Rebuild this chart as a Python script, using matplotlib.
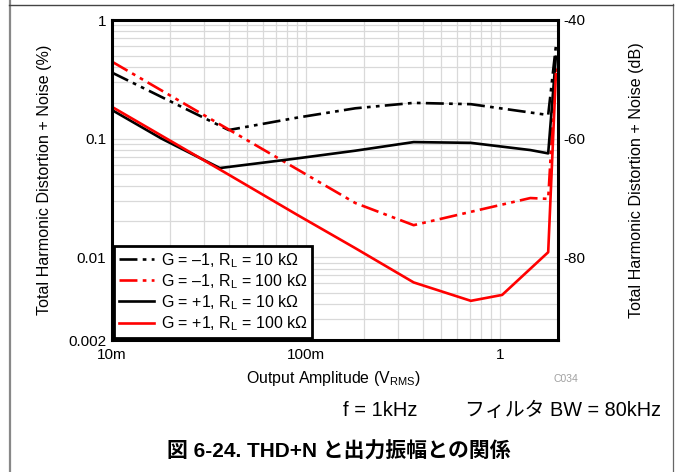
import numpy as np
import matplotlib
matplotlib.use("Agg")
import matplotlib.pyplot as plt
from matplotlib.lines import Line2D
from matplotlib.ticker import NullFormatter, LogLocator

plt.rcParams['font.family'] = ['Liberation Sans', 'Noto Sans CJK JP']
plt.rcParams['mathtext.fontset'] = 'custom'
plt.rcParams['mathtext.rm'] = 'Liberation Sans'
plt.rcParams['mathtext.it'] = 'Liberation Sans:italic'

# G = -1, RL = 10k (black dash-dot)
x_inv_10k = [0.01, 0.04, 0.09, 0.18, 0.36, 0.71, 1.78, 1.95]
y_inv_10k = [0.36, 0.118, 0.15, 0.18, 0.20, 0.195, 0.158, 0.60]

# G = -1, RL = 100k (red dash-dot)
x_inv_100k = [0.01, 0.18, 0.36, 0.71, 1.44, 1.78, 1.95]
y_inv_100k = [0.445, 0.0286, 0.0186, 0.0241, 0.0315, 0.031, 0.40]

# G = +1, RL = 10k (black solid)
x_fol_10k = [0.01, 0.018, 0.036, 0.09, 0.18, 0.36, 0.71, 1.44, 1.78, 1.95]
y_fol_10k = [0.174, 0.10, 0.0564, 0.068, 0.079, 0.0934, 0.092, 0.080, 0.075, 0.49]

# G = +1, RL = 100k (red solid)
x_fol_100k = [0.01, 0.04, 0.09, 0.18, 0.36, 0.71, 1.03, 1.78, 1.95]
y_fol_100k = [0.185, 0.0496, 0.0228, 0.0119, 0.00612, 0.00428, 0.0048, 0.011, 0.35]

labels = [r"G = –1, R$_\mathrm{L}$ = 10 kΩ",
          r"G = –1, R$_\mathrm{L}$ = 100 kΩ",
          r"G = +1, R$_\mathrm{L}$ = 10 kΩ",
          r"G = +1, R$_\mathrm{L}$ = 100 kΩ"]

x_ticks = [0.01, 0.1, 1]
x_ticklabels = ["10m", "100m", "1"]
y_ticks = [0.002, 0.01, 0.1, 1]
y_ticklabels = ["0.002", "0.01", "0.1", "1"]
db_ticks = [-40, -60, -80]
db_ticklabels = ["-40", "-60", "-80"]

W, H = 676, 472
fig = plt.figure(figsize=(W / 100, H / 100), dpi=100)
ax = fig.add_axes([112 / W, 1 - 340 / H, 446 / W, 320 / H])

dashdot = (0, (6.8, 2.0, 1.4, 2.0, 1.4, 2.0))
lw = 1.9
ax.plot(x_inv_10k, y_inv_10k, color="black", lw=lw, linestyle=dashdot, label=labels[0])
ax.plot(x_inv_100k, y_inv_100k, color="#ff0000", lw=lw, linestyle=dashdot, label=labels[1])
ax.plot(x_fol_10k, y_fol_10k, color="black", lw=lw, label=labels[2])
ax.plot(x_fol_100k, y_fol_100k, color="#ff0000", lw=lw, label=labels[3])

ax.set_xscale("log")
ax.set_yscale("log")
ax.set_xlim(0.01, 2)
ax.set_ylim(0.002, 1)
ax.set_xticks(x_ticks)
ax.set_xticklabels(x_ticklabels)
ax.set_yticks(y_ticks)
ax.set_yticklabels(y_ticklabels)
ax.xaxis.set_minor_locator(LogLocator(base=10, subs=np.arange(2, 10)))
ax.yaxis.set_minor_locator(LogLocator(base=10, subs=np.arange(2, 10)))
ax.xaxis.set_minor_formatter(NullFormatter())
ax.yaxis.set_minor_formatter(NullFormatter())
ax.grid(True, which="both", color="#d9d9d9", lw=0.9)
ax.set_axisbelow(True)
ax.tick_params(which="both", length=0, labelsize=11)
ax.tick_params(axis="x", pad=6)
ax.tick_params(axis="y", pad=4)
for s in ax.spines.values():
    s.set_linewidth(2.2)

ax2 = ax.twinx()
ax2.set_ylim(20 * np.log10(0.002 / 100), 20 * np.log10(1 / 100))
ax2.set_yticks(db_ticks)
ax2.set_yticklabels(db_ticklabels)
ax2.tick_params(length=0, labelsize=11, pad=4)
for s in ax2.spines.values():
    s.set_visible(False)

leg = ax.legend(loc="lower left", borderaxespad=0.15, fontsize=11.5, frameon=True,
                fancybox=False, framealpha=1, edgecolor="black",
                handlelength=2.2, labelspacing=0.15, borderpad=0.3, handletextpad=0.4)
leg.get_frame().set_linewidth(2)
leg.set_zorder(5)
ax.set_zorder(ax2.get_zorder() + 1)
ax.patch.set_visible(False)

def px(x, y):
    return x / W, 1 - y / H

fig.text(*px(45, 180), "Total Harmonic Distortion + Noise (%)", rotation=90,
         ha="center", va="center", fontsize=11.6)
fig.text(*px(636, 180), "Total Harmonic Distortion + Noise (dB)", rotation=90,
         ha="center", va="center", fontsize=11.6)
fig.text(*px(333, 378), r"Output Amplitude (V$_\mathrm{RMS}$)", ha="center", va="center",
         fontsize=11.4)
fig.text(*px(566, 379), "C034", ha="center", va="center", fontsize=7.5, color="#a0a0a0")
fig.text(*px(380, 410), "f = 1kHz", ha="center", va="center", fontsize=14.5)
fig.text(*px(563, 410), "フィルタ BW = 80kHz", ha="center", va="center", fontsize=14.3)
fig.text(*px(339, 452), "図 6-24. THD+N と出力振幅との関係", ha="center", va="center",
         fontsize=15, fontweight="bold")

# page frame lines
fig.add_artist(Line2D([9.5 / W, 9.5 / W], [0, 1], transform=fig.transFigure,
                      color="#888888", lw=1.6))
fig.add_artist(Line2D([673 / W, 673 / W], [0, 1 - 4 / H], transform=fig.transFigure,
                      color="#666666", lw=0.9))
fig.add_artist(Line2D([9 / W, 673 / W], [1 - 4.5 / H, 1 - 4.5 / H], transform=fig.transFigure,
                      color="#444444", lw=1.0))

fig.savefig("out.png", dpi=100)
